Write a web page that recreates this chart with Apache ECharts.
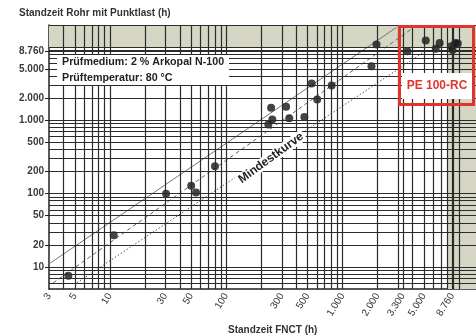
<!DOCTYPE html>
<html><head><meta charset="utf-8">
<script src="https://cdn.jsdelivr.net/npm/echarts@6/dist/echarts.min.js"></script>
<style>html,body{margin:0;padding:0;background:#fff}#c{width:476px;height:336px}</style>
</head><body><div id="c"></div>
<script>
// Tick labels
const xTickValues = [3, 5, 10, 30, 50, 100, 300, 500, 1000, 2000, 3300, 5000, 8760];
const xTickLabels = ['3', '5', '10', '30', '50', '100', '300', '500', '1.000', '2.000', '3.300', '5.000', '8.760'];
const yTickValues = [10, 20, 50, 100, 200, 500, 1000, 2000, 5000, 8760];
const yTickLabels = ['10', '20', '50', '100', '200', '500', '1.000', '2.000', '5.000', '8.760'];
// Grid line positions (log grid)
const xGridValues = [4, 5, 6, 7, 8, 9, 10, 20, 30, 40, 50, 60, 70, 80, 90, 100, 200, 300, 400, 500, 600, 700, 800, 900, 1000, 2000, 3000, 3300, 4000, 5000, 6000, 7000, 8000, 8760, 9000, 10000];
const yGridValues = [6, 7, 8, 9, 10, 20, 30, 40, 50, 60, 70, 80, 90, 100, 200, 300, 400, 500, 600, 700, 800, 900, 1000, 2000, 3000, 4000, 5000, 6000, 7000, 8000, 8760, 9000, 10000, 20000];
// Measured points: FNCT time (h) vs pipe with point load time (h)
const fnctHours = [4.4, 10.8, 30.4, 50, 55, 80, 230, 243, 249, 327, 348, 469, 542, 605, 805, 1770, 1955, 3600, 5180, 6310, 6820, 8590, 8810, 9300, 9770];
const pipeHours = [7.6, 27, 100, 128, 104, 236, 880, 1490, 1030, 1530, 1065, 1110, 3180, 1930, 3000, 5480, 10800, 8770, 12250, 9450, 11400, 10250, 9120, 11400, 11170];
// Reference lines (end points)
const upperLineX = [3, 2900];
const upperLineY = [11.0, 18500];
const middleLineX = [3.25, 4018];
const middleLineY = [6.04, 18200];
const minLineX = [5.22, 5300];
const minLineY = [6.1, 9120];

function nearestLabel(values, labels, v) {
  let best = -1, bd = Infinity;
  values.forEach((t, i) => { const d = Math.abs(Math.log10(t) - Math.log10(v)); if (d < bd) { bd = d; best = i; } });
  return bd < 0.005 ? labels[best] : '';
}
const zip = (a, b) => a.map((v, i) => [v, b[i]]);

const chart = echarts.init(document.getElementById('c'));
const FONT = 'Liberation Sans, Arial, sans-serif';
chart.setOption({
  animation: false,
  backgroundColor: '#fff',
  grid: { left: 49, right: 0, top: 25, bottom: 47 },
  title: [
    { text: 'Standzeit Rohr mit Punktlast (h)', left: 19, top: 8, padding: 0,
      textStyle: { fontSize: 10, fontWeight: 'bold', color: '#333', fontFamily: FONT } },
    { text: 'Standzeit FNCT (h)', left: 228, top: 325, padding: 0,
      textStyle: { fontSize: 10, fontWeight: 'bold', color: '#333', fontFamily: FONT } }
  ],
  xAxis: {
    type: 'log', logBase: 10, min: 3, max: 14000,
    axisLine: { show: true, lineStyle: { color: '#222', width: 1.5 } },
    axisTick: { show: false },
    splitLine: { show: false },
    minorTick: { show: false },
    axisLabel: {
      customValues: xTickValues, rotate: 58, margin: 5, fontSize: 10, color: '#333', fontFamily: FONT,
      formatter: v => nearestLabel(xTickValues, xTickLabels, v)
    }
  },
  yAxis: {
    type: 'log', logBase: 10, min: 5, max: 20000,
    axisLine: { show: true, lineStyle: { color: '#222', width: 1.5 } },
    axisTick: { show: true, customValues: yTickValues, length: 4, lineStyle: { color: '#222' } },
    splitLine: { show: false },
    axisLabel: {
      customValues: yTickValues, margin: 5, fontSize: 10, fontWeight: 'bold', color: '#3a3a3a', fontFamily: FONT,
      formatter: v => nearestLabel(yTickValues, yTickLabels, v)
    }
  },
  series: [
    { type: 'line', data: [], silent: true, z: 1,
      markArea: { silent: true, itemStyle: { color: '#d5d6c4' },
        data: [ [{ yAxis: 10000 }, { yAxis: 20000 }], [{ xAxis: 8000 }, { xAxis: 14000 }] ] } },
    { type: 'line', data: [], silent: true, z: 2,
      markLine: { silent: true, symbol: ['none', 'none'], label: { show: false },
        lineStyle: { color: '#2b2b2b', width: 1.2, type: 'solid' },
        emphasis: { disabled: true },
        data: xGridValues.map(v => ({ xAxis: v })).concat(yGridValues.map(v => ({ yAxis: v }))) } },
    { type: 'line', data: zip(upperLineX, upperLineY), showSymbol: false, silent: true, z: 3,
      lineStyle: { color: '#777', width: 1, type: 'solid' } },
    { type: 'line', data: zip(middleLineX, middleLineY), showSymbol: false, silent: true, z: 3,
      lineStyle: { color: '#666', width: 1, type: [4, 3] } },
    { type: 'line', data: zip(minLineX, minLineY), showSymbol: false, silent: true, z: 3,
      lineStyle: { color: '#555', width: 1, type: [1.5, 2] } },
    { type: 'scatter', data: zip(fnctHours, pipeHours), symbolSize: 8, z: 4,
      itemStyle: { color: '#151515' } }
  ],
  graphic: [
    { type: 'rect', z: 100, shape: { x: 57, y: 55, width: 172, height: 30 }, style: { fill: '#fff' } },
    { type: 'text', z: 101, left: 62, top: 57, style: { text: 'Prüfmedium: 2 % Arkopal N-100', font: 'bold 10.7px ' + FONT, fill: '#222' } },
    { type: 'text', z: 101, left: 62, top: 73, style: { text: 'Prüftemperatur: 80 °C', font: 'bold 10.7px ' + FONT, fill: '#222' } },
    { type: 'rect', z: 100, shape: { x: 399.5, y: 26.5, width: 74, height: 78 }, style: { fill: null, stroke: '#e0352c', lineWidth: 3 } },
    { type: 'rect', z: 100, shape: { x: 402, y: 73, width: 70, height: 26 }, style: { fill: '#fff' } },
    { type: 'text', z: 101, x: 437, y: 86, style: { text: 'PE 100-RC', font: 'bold 12px ' + FONT, fill: '#e0352c', align: 'center', verticalAlign: 'middle' } },
    { type: 'text', z: 101, x: 271, y: 158, rotation: 36 * Math.PI / 180,
      style: { text: 'Mindestkurve', font: 'bold 12px ' + FONT, fill: '#222', align: 'center', verticalAlign: 'middle', backgroundColor: '#fff', padding: [0, 2] } }
  ]
});
</script></body></html>
